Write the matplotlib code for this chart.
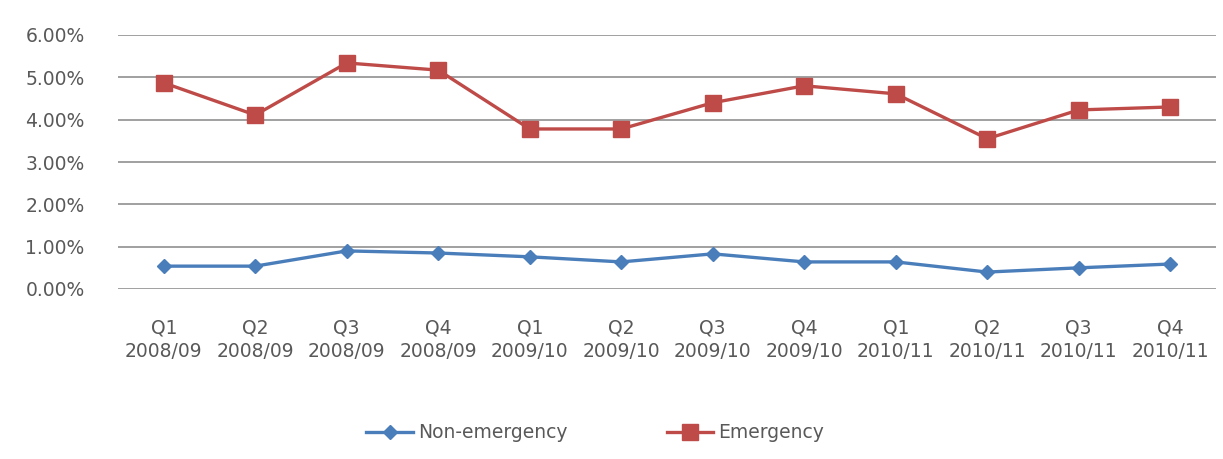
import matplotlib.pyplot as plt
from matplotlib.ticker import PercentFormatter

quarters = ['Q1', 'Q2', 'Q3', 'Q4'] * 3
years = ['2008/09'] * 4 + ['2009/10'] * 4 + ['2010/11'] * 4
non_emergency = [0.54, 0.54, 0.90, 0.85, 0.76, 0.64, 0.83, 0.64, 0.64, 0.40, 0.50, 0.59]
emergency = [4.87, 4.11, 5.34, 5.17, 3.78, 3.78, 4.40, 4.80, 4.61, 3.55, 4.23, 4.30]

blue = '#4a7ebb'
red = '#be4b48'
grey = '#595959'

fig = plt.figure(figsize=(12.23, 4.59), dpi=100)
ax = fig.add_axes([118 / 1223, 1 - 289 / 459, 1098 / 1223, 254 / 459])

x = list(range(len(quarters)))
ax.plot(x, non_emergency, color=blue, lw=2.4, marker='D', ms=7.5,
        label='Non-emergency')
ax.plot(x, emergency, color=red, lw=2.4, marker='s', ms=11,
        label='Emergency')

ax.set_xlim(-0.5, len(quarters) - 0.5)
ax.set_ylim(0, 6)
ax.set_yticks(range(7))
ax.yaxis.set_major_formatter(PercentFormatter(decimals=2))
ax.set_xticks(x)
ax.set_xticklabels([q + '\n' + y for q, y in zip(quarters, years)],
                   linespacing=1.35)

ax.grid(axis='y', color='#a0a0a0', lw=1.4)
ax.set_axisbelow(True)
for s in ax.spines.values():
    s.set_visible(False)
ax.tick_params(axis='both', length=0, labelsize=13.5, colors=grey)
ax.tick_params(axis='x', pad=21)
ax.tick_params(axis='y', pad=24)

ax.legend(loc='center', bbox_to_anchor=(595 / 1223, 1 - 433 / 459),
          bbox_transform=fig.transFigure, ncol=2, frameon=False,
          fontsize=13.5, labelcolor=grey, handlelength=2.5,
          handletextpad=0.25, columnspacing=5.3)

fig.savefig('out.png', dpi=100, facecolor='white')
